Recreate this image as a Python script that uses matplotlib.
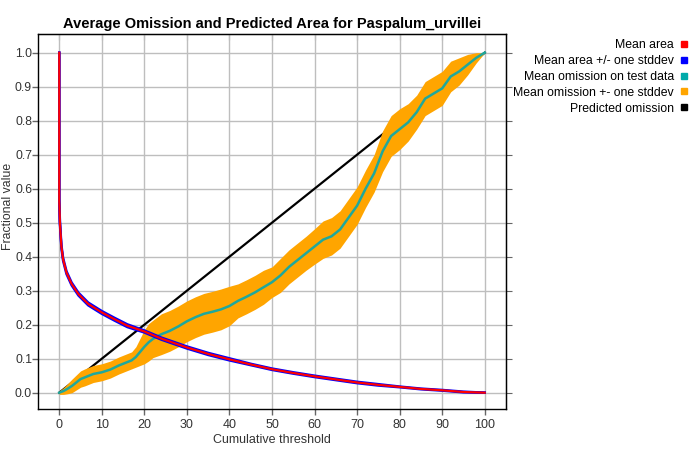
import matplotlib
matplotlib.use("Agg")
import matplotlib.pyplot as plt
from matplotlib.lines import Line2D

plt.rcParams['font.family'] = ['Liberation Sans', 'DejaVu Sans']

title = "Average Omission and Predicted Area for Paspalum_urvillei"

# Mean fractional predicted area
area_x = [0, 0, 0.15, 0.5, 0.9, 1.7, 2.9, 4.5, 6.8, 10, 13, 16, 20, 24, 30, 35, 40,
          45, 50, 55, 60, 65, 70, 75, 80, 85, 90, 95, 100]
area_y = [1.0, 0.566, 0.5, 0.43, 0.392, 0.353, 0.32, 0.29, 0.261, 0.236, 0.216, 0.197,
          0.18, 0.159, 0.133, 0.114, 0.098, 0.083, 0.069, 0.058, 0.048, 0.039, 0.03,
          0.023, 0.017, 0.011, 0.007, 0.002, 0.0]
area_sd = [0.0, 0.004, 0.004, 0.004, 0.004, 0.004, 0.004, 0.004, 0.004, 0.004, 0.004,
           0.004, 0.003, 0.003, 0.003, 0.003, 0.003, 0.002, 0.002, 0.002, 0.002, 0.002,
           0.002, 0.002, 0.001, 0.001, 0.001, 0.001, 0.0]

# Mean omission on test data
om_x = [0, 1, 2, 3, 4, 5, 6, 7, 8, 10, 12, 14, 16, 17, 18, 19, 20, 21, 22, 24, 26, 28,
        30, 32, 34, 36, 38, 40, 42, 44, 46, 48, 50, 52, 54, 56, 58, 60, 62, 64, 66, 68,
        70, 72, 74, 76, 78, 80, 82, 84, 86, 88, 90, 92, 94, 96, 98, 100]
om_y = [0.0, 0.005, 0.012, 0.02, 0.03, 0.04, 0.045, 0.05, 0.055, 0.06, 0.068, 0.08,
        0.09, 0.095, 0.105, 0.12, 0.135, 0.148, 0.158, 0.172, 0.182, 0.195, 0.21, 0.222,
        0.232, 0.238, 0.245, 0.255, 0.27, 0.282, 0.295, 0.31, 0.325, 0.345, 0.37, 0.39,
        0.41, 0.43, 0.45, 0.46, 0.48, 0.515, 0.55, 0.6, 0.645, 0.71, 0.755, 0.775, 0.795,
        0.825, 0.865, 0.88, 0.895, 0.93, 0.945, 0.965, 0.985, 1.0]
om_sd = [0.005, 0.01, 0.015, 0.02, 0.022, 0.024, 0.025, 0.025, 0.025, 0.025, 0.025,
         0.025, 0.025, 0.025, 0.03, 0.04, 0.05, 0.055, 0.055, 0.06, 0.06, 0.06, 0.06,
         0.06, 0.06, 0.06, 0.06, 0.058, 0.05, 0.05, 0.05, 0.05, 0.045, 0.05, 0.05, 0.05,
         0.05, 0.052, 0.055, 0.055, 0.055, 0.055, 0.055, 0.055, 0.055, 0.06, 0.06,
         0.06, 0.055, 0.05, 0.05, 0.05, 0.05, 0.045, 0.04, 0.03, 0.015, 0.0]

# Predicted omission
pred_x = [0, 100]
pred_y = [0.0, 1.0]

xticks = list(range(0, 101, 10))
yticks = [0.0, 0.1, 0.2, 0.3, 0.4, 0.5, 0.6, 0.7, 0.8, 0.9, 1.0]

C_RED = '#FF0000'
C_BLUE = '#0000FF'
C_TEAL = '#1FA89C'
C_TEAL_LEG = '#00AAAA'
C_ORANGE = '#FFA500'
C_BLACK = '#000000'
TXT = '#333333'

fig = plt.figure(figsize=(7, 4.5), dpi=100)
ax = fig.add_axes([38 / 700, 1 - 409 / 450, (506 - 38) / 700, (409 - 34) / 450])

ax.set_xlim(-5, 105)
ax.set_ylim(-0.048, 1.055)

ax.grid(True, color='#BEBEBE', linewidth=1.0)
ax.set_axisbelow(True)

ax.plot(pred_x, pred_y, color=C_BLACK, linewidth=1.6, zorder=2)

lo = [m - s for m, s in zip(om_y, om_sd)]
hi = [m + s for m, s in zip(om_y, om_sd)]
ax.fill_between(om_x, lo, hi, color=C_ORANGE, linewidth=0, zorder=3)
ax.plot(om_x, om_y, color=C_TEAL, linewidth=1.8, zorder=4)

a_lo = [m - s for m, s in zip(area_y, area_sd)]
a_hi = [m + s for m, s in zip(area_y, area_sd)]
ax.plot(area_x, a_hi, color=C_BLUE, linewidth=1.8, zorder=5)
ax.plot(area_x, a_lo, color=C_BLUE, linewidth=1.8, zorder=5)
ax.plot(area_x, area_y, color=C_RED, linewidth=1.6, zorder=6)

ax.set_xticks(xticks)
ax.set_xticklabels([str(t) for t in xticks])
ax.set_yticks(yticks)
ax.set_yticklabels([f"{t:.1f}" for t in yticks])
ax.tick_params(axis='both', direction='out', length=4, width=1, color='#666666',
               labelsize=9, labelcolor=TXT)
ax.tick_params(axis='y', pad=0.3, labelsize=8.8)
ax.tick_params(axis='x', pad=3)
for sp in ax.spines.values():
    sp.set_color('#000000')
    sp.set_linewidth(1.0)

top = ax.secondary_xaxis('top')
top.set_xticks(xticks)
top.tick_params(direction='in', length=4, labeltop=False, color='#666666')
right = ax.secondary_yaxis('right')
right.set_yticks(yticks)
right.tick_params(direction='out', length=4, labelright=False, color='#666666')

ax.set_xlabel("Cumulative threshold", fontsize=9, color=TXT)
ax.xaxis.set_label_coords(0.5, -0.066)
ax.set_ylabel("Fractional value", fontsize=8.8, color=TXT)
ax.yaxis.set_label_coords(-0.052, 0.54)
ax.set_title(title, fontsize=10.5, fontweight='bold', pad=4)

handles = [
    Line2D([], [], linestyle='none', marker='s', markersize=5, color=C_RED),
    Line2D([], [], linestyle='none', marker='s', markersize=5, color=C_BLUE),
    Line2D([], [], linestyle='none', marker='s', markersize=5, color=C_TEAL_LEG),
    Line2D([], [], linestyle='none', marker='s', markersize=5, color=C_ORANGE),
    Line2D([], [], linestyle='none', marker='s', markersize=5, color=C_BLACK),
]
labels = ["Mean area", "Mean area +/- one stddev", "Mean omission on test data",
          "Mean omission +- one stddev", "Predicted omission"]
fig.legend(handles, labels, loc='upper right', bbox_to_anchor=(687.5 / 700, 1 - 39 / 450),
           markerfirst=False, frameon=False, fontsize=8.8, handlelength=0.6,
           handletextpad=0.5, labelspacing=0.32, borderpad=0, borderaxespad=0,
           labelcolor='#000000')

fig.savefig("out.png", dpi=100)
